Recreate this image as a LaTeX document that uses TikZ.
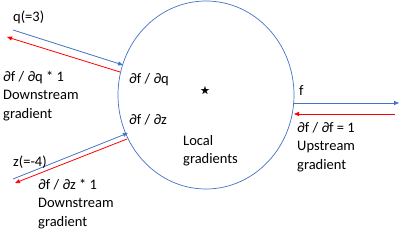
\documentclass[tikz,border=0pt]{standalone}
\usepackage{amssymb}
\usepackage{fontspec}
\setmainfont{Carlito}
\usepackage{tikz}
\usetikzlibrary{positioning, arrows.meta, shapes.geometric}
\definecolor{fwdblue}{RGB}{68,114,196}
\definecolor{bwdred}{RGB}{255,0,0}

\begin{document}
\begin{tikzpicture}[
  x=1pt, y=-1pt,
  every node/.style={font=\fontsize{14.5}{18.5}\selectfont, inner sep=0pt},
  lbl/.style={align=left},
  gate/.style={draw=fwdblue, ellipse, line width=0.7pt,
               minimum width=176pt, minimum height=188pt},
  fwd/.style={draw=fwdblue, line width=0.8pt,
              -{Triangle[length=5pt, width=4pt]}},
  bwd/.style={draw=bwdred, line width=0.8pt,
              -{Triangle[length=5pt, width=4pt]}}
]
\useasboundingbox (0,0) rectangle (400,245);

% the gate
\node[gate] (gate) at (206,95) {};
\node[font=\normalsize] (star) at (205,91) {$\bigstar$};
\node[lbl, anchor=west] (dq) at (129,80) {∂f / ∂q};
\node[lbl, anchor=west] (dz) at (129,120) {∂f / ∂z};
\node[lbl, anchor=north west] (local) at (183,135) {Local\\gradients};

% end points of the wires
\coordinate (qin) at (13,30);
\coordinate (qhit) at (123,65);
\coordinate (qback) at (120,72);
\coordinate (qout) at (7,37);
\coordinate (zin) at (13,179);
\coordinate (zhit) at (128,133);
\coordinate (zback) at (127,139);
\coordinate (zout) at (15,183);
\coordinate (fstart) at (293,103);
\coordinate (fout) at (399,103);
\coordinate (fin) at (395,114);
\coordinate (fback) at (294,114);

% forward pass
\foreach \a/\b in {qin/qhit, zin/zhit, fstart/fout}
  \draw[fwd] (\a) -- (\b);

% backward pass
\foreach \a/\b in {qback/qout, zback/zout, fin/fback}
  \draw[bwd] (\a) -- (\b);

% inputs and output
\node[lbl, anchor=west] (qval) at (13,17) {q(=3)};
\node[lbl, anchor=west] (zval) at (13,162) {z(=-4)};
\node[lbl, anchor=west] (fval) at (299,91) {f};

\node[lbl, anchor=north west] (qgrad) at (3,71) {∂f / ∂q * 1\\Downstream\\gradient};
\node[lbl, anchor=north west] (zgrad) at (38,179) {∂f / ∂z * 1\\Downstream\\gradient};
\node[lbl, anchor=north west] (fgrad) at (297,122) {∂f / ∂f = 1\\Upstream\\gradient};
\end{tikzpicture}
\end{document}
